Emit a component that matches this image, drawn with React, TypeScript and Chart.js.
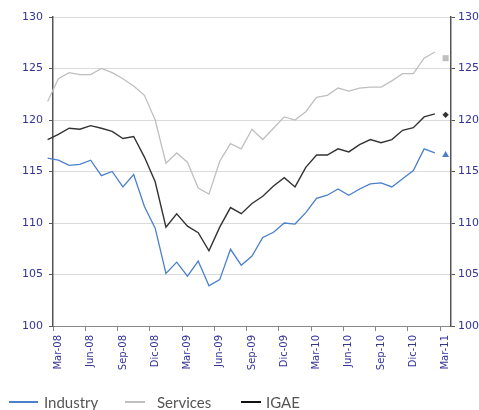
import React, { useEffect, useRef } from "react";
import { Chart, registerables } from "chart.js";

Chart.register(...registerables);

// Monthly index values, Feb-08 .. Feb-11 (index 0 = Feb-08)
const industry = [
  116.3, 116.1, 115.6, 115.7, 116.1, 114.6, 115.0, 113.5, 114.7, 111.6,
  109.5, 105.1, 106.2, 104.85, 106.3, 103.9, 104.5, 107.45, 105.9, 106.8,
  108.6, 109.1, 110.0, 109.9, 111.0, 112.4, 112.7, 113.3, 112.7, 113.3,
  113.8, 113.9, 113.5, 114.3, 115.1, 117.2, 116.8,
];
const services = [
  121.8, 124.0, 124.6, 124.4, 124.4, 125.0, 124.6, 124.0, 123.3, 122.4,
  120.0, 115.8, 116.8, 115.9, 113.4, 112.8, 116.0, 117.7, 117.2, 119.1,
  118.1, 119.2, 120.3, 120.0, 120.8, 122.2, 122.4, 123.1, 122.8, 123.1,
  123.2, 123.2, 123.8, 124.5, 124.5, 126.0, 126.6,
];
const igae = [
  118.1, 118.6, 119.2, 119.1, 119.45, 119.2, 118.9, 118.2, 118.4, 116.4,
  114.0, 109.6, 110.9, 109.7, 109.06, 107.3, 109.6, 111.5, 110.9, 111.9,
  112.6, 113.6, 114.4, 113.5, 115.4, 116.6, 116.6, 117.2, 116.9, 117.6,
  118.1, 117.8, 118.1, 119.0, 119.25, 120.3, 120.6,
];
// Single Mar-11 points
const industryMar11 = 116.6;
const servicesMar11 = 126.0;
const igaeMar11 = 120.5;

const tickLabels = [
  "Mar-08", "Jun-08", "Sep-08", "Dic-08", "Mar-09", "Jun-09", "Sep-09",
  "Dic-09", "Mar-10", "Jun-10", "Sep-10", "Dic-10", "Mar-11",
];
const yTicks = [100, 105, 110, 115, 120, 125, 130];

const blue = "#4a7fcb";
const gray = "#bfbfbf";
const dark = "#333333";
const labelColor = "#333399";

export default function App() {
  const ref = useRef<HTMLCanvasElement | null>(null);

  useEffect(() => {
    document.body.style.margin = "0";
    const canvas = ref.current;
    if (!canvas) return;
    const lineDs = (label: string, values: number[], color: string, w: number) => ({
      label,
      data: values.map((y, i) => ({ x: i, y })),
      borderColor: color,
      backgroundColor: color,
      borderWidth: w,
      pointRadius: 0,
      tension: 0,
      clip: false as any,
    });
    const markDs = (label: string, x: number, y: number, color: string, style: any, r: number) => ({
      label,
      data: [{ x, y }],
      showLine: false,
      pointStyle: style,
      pointRadius: r,
      backgroundColor: color,
      borderColor: color,
      borderWidth: 0,
      clip: false as any,
    });
    const n = industry.length;
    const chart = new Chart(canvas, {
      type: "line",
      data: {
        datasets: [
          lineDs("Services", services, gray, 1.3),
          lineDs("IGAE", igae, dark, 1.4),
          lineDs("Industry", industry, blue, 1.3),
          markDs("Industry Mar-11", n, industryMar11, blue, "triangle", 4),
          markDs("Services Mar-11", n, servicesMar11, gray, "rect", 4.3),
          markDs("IGAE Mar-11", n, igaeMar11, dark, "rectRot", 3.2),
        ] as any,
      },
      options: {
        animation: false,
        responsive: false,
        maintainAspectRatio: false,
        layout: { padding: { top: 17, left: 0, right: 0, bottom: 0 } },
        plugins: { legend: { display: false }, tooltip: { enabled: false } },
        scales: {
          x: {
            type: "linear",
            position: "bottom",
            min: 0.5,
            max: 37.5,
            afterBuildTicks: (s: any) => {
              s.ticks = tickLabels.map((_, j) => ({ value: 0.5 + 3 * j }));
            },
            afterFit: (s: any) => {
              s.height = 84;
            },
            ticks: {
              autoSkip: false,
              maxRotation: 90,
              minRotation: 90,
              labelOffset: 5.4,
              padding: 4,
              color: labelColor,
              font: { family: "'DejaVu Sans', sans-serif", size: 10 },
              callback: (_v: any, i: number) => tickLabels[i],
            },
            grid: { drawOnChartArea: false, drawTicks: true, tickLength: 5, tickColor: "#888" },
            border: { color: "#888", width: 1 },
          },
          y: {
            position: "left",
            min: 100,
            max: 130,
            afterBuildTicks: (s: any) => {
              s.ticks = yTicks.map((v) => ({ value: v }));
            },
            afterFit: (s: any) => {
              s.width = 53;
            },
            ticks: {
              padding: 6,
              color: labelColor,
              font: { family: "'DejaVu Sans', sans-serif", size: 11 },
            },
            grid: { color: "#dadada", tickColor: "#555", tickLength: 4, lineWidth: 1 },
            border: { color: "#555", width: 1.5 },
          },
          y2: {
            position: "right",
            min: 100,
            max: 130,
            afterBuildTicks: (s: any) => {
              s.ticks = yTicks.map((v) => ({ value: v }));
            },
            afterFit: (s: any) => {
              s.width = 28;
            },
            ticks: {
              padding: 3,
              color: labelColor,
              font: { family: "'DejaVu Sans', sans-serif", size: 11 },
            },
            grid: { drawOnChartArea: false, tickColor: "#555", tickLength: 4 },
            border: { color: "#555", width: 1.5 },
          },
        },
      } as any,
    });
    return () => chart.destroy();
  }, []);

  const legendText: React.CSSProperties = {
    position: "absolute",
    top: 393,
    fontFamily: "Lato, 'Open Sans', sans-serif",
    fontSize: 15,
    lineHeight: "18px",
    color: "#555",
    whiteSpace: "nowrap",
  };
  const legendLine = (left: number, width: number, color: string, h: number): React.CSSProperties => ({
    position: "absolute",
    top: 402 - h / 2,
    left,
    width,
    height: h,
    background: color,
  });

  return (
    <div style={{ position: "fixed", left: 0, top: 0, width: 479, height: 410, background: "#fff", overflow: "hidden" }}>
      <canvas ref={ref} width={479} height={410} style={{ position: "absolute", left: 0, top: 0, width: 479, height: 410 }} />
      <div style={legendLine(9, 29, blue, 1.5)} />
      <span style={{ ...legendText, left: 44 }}>Industry</span>
      <div style={legendLine(125, 20, gray, 1.5)} />
      <span style={{ ...legendText, left: 157 }}>Services</span>
      <div style={legendLine(241, 20, "#111", 2)} />
      <span style={{ ...legendText, left: 266 }}>IGAE</span>
    </div>
  );
}
